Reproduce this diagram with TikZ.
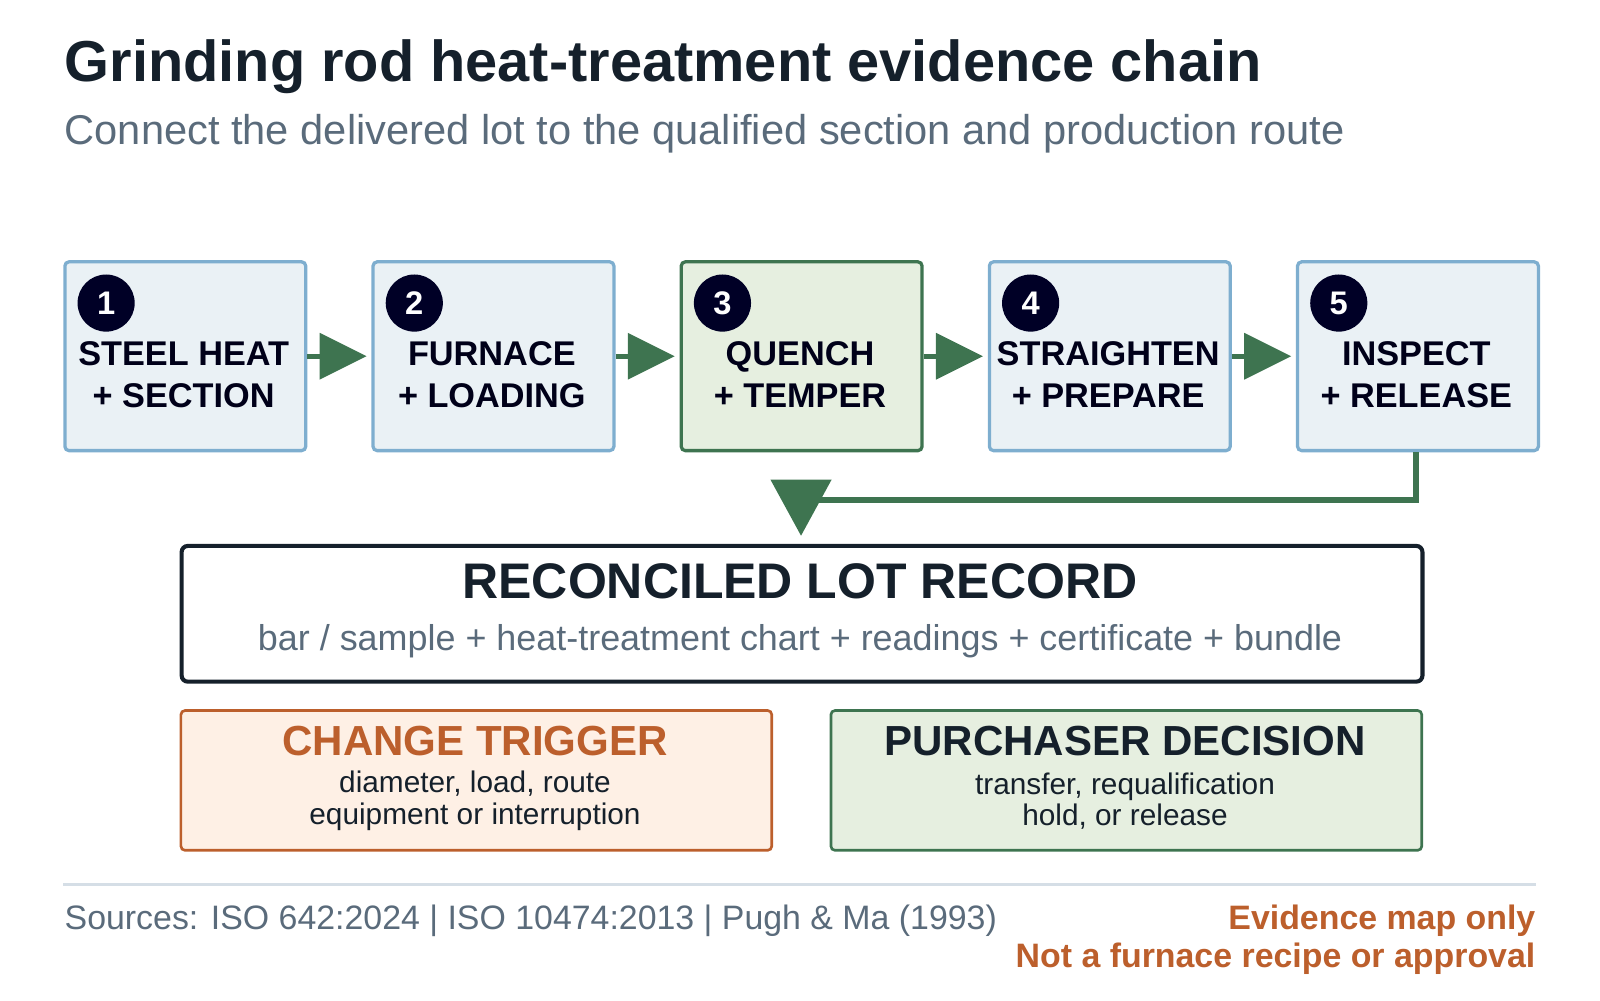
\documentclass[tikz,border=0pt]{standalone}
\usepackage{fontspec}
\setmainfont{Liberation Sans}
\begin{document}
\begin{tikzpicture}[x=0.5pt,y=-0.5pt,
 stepbox/.style={line width=1.6pt, rounded corners=2pt, minimum width=118pt, minimum height=92.5pt, anchor=north west, inner sep=0pt},
 lbl/.style={font=\bfseries\fontsize{16.8}{20.5}\selectfont, align=center, text=black!90!blue},
 num/.style={circle, fill=black!85!blue, text=white, font=\bfseries\fontsize{16}{16}\selectfont, minimum size=28pt, inner sep=0pt}]
\definecolor{gr}{HTML}{3E7450}
\definecolor{orng}{HTML}{BC5F2C}
\definecolor{slate}{HTML}{5A6B7B}
\definecolor{boxb}{HTML}{7EAECF}
\definecolor{boxf}{HTML}{EAF1F5}
\definecolor{gf}{HTML}{E6EFE0}
\definecolor{of}{HTML}{FEF0E5}
\definecolor{ink}{HTML}{15202B}
\definecolor{rule}{HTML}{D5DEE6}
\useasboundingbox (0,0) rectangle (1568,980);
\node[anchor=base west, font=\bfseries\fontsize{28.3}{32}\selectfont, text=ink, inner sep=0] (title) at (63,80) {Grinding rod heat-treatment evidence chain};
\node[anchor=base west, font=\fontsize{20.4}{24}\selectfont, text=slate, inner sep=0] (sub) at (63,142) {Connect the delivered lot to the qualified section and production route};
\foreach \i/\x/\a/\b/\c in {1/62/STEEL HEAT/+ SECTION/0,2/364/FURNACE/+ LOADING/0,3/666/QUENCH/+ TEMPER/1,4/968/STRAIGHTEN/+ PREPARE/0,5/1270/INSPECT/+ RELEASE/0}{
 \ifnum\c=1
  \node[stepbox, draw=gr, fill=gf] (s\i) at (\x,255) {};
 \else
  \node[stepbox, draw=boxb, fill=boxf] (s\i) at (\x,255) {};
 \fi
 \node[num] (n\i) at (\x+42,297) {\i};
 \node[lbl] (t\i) at (\x+118,367) {\a\\\b};
}
\foreach \i/\j in {1/2,2/3,3/4,4/5}{
 \draw[gr, line width=2.5pt] (s\i.east) -- ++(12,0) coordinate (c\i);
 \fill[gr] (c\i) ++(0,-23) -- ++(46,23) -- ++(-46,23) -- cycle;
}
\coordinate (fb) at (800,490);
\draw[gr, line width=3pt] (s5.south -| 1388,0) -- (1388,490) -- (fb);
\fill[gr] (755,470) -- (815,470) -- (785,525) -- cycle;
\node[draw=ink, line width=2pt, rounded corners=3pt, anchor=north west, minimum width=608pt, minimum height=66.5pt, inner sep=0] (rec) at (176,533) {};
\node[font=\bfseries\fontsize{24.5}{28}\selectfont, text=ink] (rt) at (784,570) {RECONCILED LOT RECORD};
\node[font=\fontsize{17.6}{20}\selectfont, text=slate] (rs) at (784,628) {bar / sample + heat-treatment chart + readings + certificate + bundle};
\node[draw=orng, fill=of, line width=1.3pt, rounded corners=2pt, anchor=north west, minimum width=289.5pt, minimum height=68.5pt, inner sep=0] (ch) at (176,695) {};
\node[font=\bfseries\fontsize{20.6}{24}\selectfont, text=orng] (cht) at (465.5,726) {CHANGE TRIGGER};
\node[font=\fontsize{14.6}{15.5}\selectfont, align=center, text=ink] (chs) at (465.5,785) {diameter, load, route\\equipment or interruption};
\node[draw=gr, fill=gf, line width=1.3pt, rounded corners=2pt, anchor=north west, minimum width=289.5pt, minimum height=68.5pt, inner sep=0] (pd) at (813,695) {};
\node[font=\bfseries\fontsize{20.6}{24}\selectfont, text=ink] (pdt) at (1102.5,726) {PURCHASER DECISION};
\node[font=\fontsize{14.6}{15.5}\selectfont, align=center, text=ink] (pds) at (1102.5,785) {transfer, requalification\\hold, or release};
\draw[draw=rule, line width=1.2pt] (62,867) coordinate (r1) -- (1505,867) coordinate (r2);
\node[anchor=base west, font=\fontsize{16.6}{18}\selectfont, text=slate, inner sep=0] (src) at (63,911) {Sources: ISO 642:2024 | ISO 10474:2013 | Pugh \& Ma (1993)};
\node[anchor=base east, font=\bfseries\fontsize{16.6}{18.5}\selectfont, text=orng, inner sep=0] (nt) at (1505,911) {Evidence map only};
\node[anchor=base east, font=\bfseries\fontsize{16.6}{18.5}\selectfont, text=orng, inner sep=0] (nt2) at (1505,948) {Not a furnace recipe or approval};
\end{tikzpicture}
\end{document}
